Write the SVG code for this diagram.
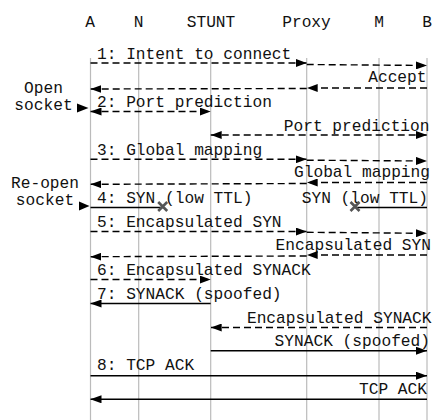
<svg xmlns="http://www.w3.org/2000/svg" width="433" height="420" viewBox="0 0 433 420">
<style>
text{font-family:"Liberation Mono","DejaVu Sans Mono",monospace;font-size:16.2px;fill:#111}
.e{text-anchor:end}
.m{text-anchor:middle}
.life{stroke:#bbb;stroke-width:1.2}
.a{stroke:#000;stroke-width:1.4;fill:none}
.d{stroke-dasharray:7,4}
.x{stroke:#555;stroke-width:2.6}
</style>
<defs>
<marker id="ah" viewBox="0 0 11 8" refX="11" refY="4" markerWidth="11" markerHeight="8" orient="auto-start-reverse" markerUnits="userSpaceOnUse">
<path d="M0,0 L11,4 L0,8 z" fill="#000"/>
</marker>
</defs>
<g id="lifelines">
<g id="A"><text class="m" x="90" y="26.5">A</text><line class="life" x1="90.5" y1="58" x2="90.5" y2="420"/></g>
<g id="N"><text class="m" x="138.5" y="26.5">N</text><line class="life" x1="138.7" y1="58" x2="138.7" y2="420"/></g>
<g id="STUNT"><text class="m" x="211" y="26.5">STUNT</text><line class="life" x1="210.7" y1="58" x2="210.7" y2="420"/></g>
<g id="Proxy"><text class="m" x="306.5" y="26.5">Proxy</text><line class="life" x1="306.7" y1="58" x2="306.7" y2="420"/></g>
<g id="M"><text class="m" x="379" y="26.5">M</text><line class="life" x1="379" y1="58" x2="379" y2="420"/></g>
<g id="B"><text class="m" x="427" y="26.5">B</text><line class="life" x1="427" y1="58" x2="427" y2="420"/></g>
</g>
<g id="notes">
<text class="m" x="43.5" y="92.5">Open</text>
<text class="m" x="43.5" y="110">socket</text>
<polygon points="77,103.5 88.5,108 77,112.5" fill="#000"/>
<text class="m" x="45" y="187.5">Re-open</text>
<text class="m" x="45" y="204.5">socket</text>
<polygon points="79,201.5 89.5,206 79,210.5" fill="#000"/>
</g>
<g id="connectors">
<text x="97" y="59">1: Intent to connect</text>
<line class="a d" x1="90.5" y1="63" x2="306.7" y2="63" marker-end="url(#ah)"/>
<line class="a d" x1="306.7" y1="64.5" x2="427" y2="65.5" marker-end="url(#ah)"/>

<text class="e" x="426.5" y="82">Accept</text>
<line class="a d" x1="427" y1="88" x2="306.7" y2="88" marker-end="url(#ah)"/>
<line class="a d" x1="306.7" y1="88.5" x2="90.5" y2="89" marker-end="url(#ah)"/>

<text x="97" y="107">2: Port prediction</text>
<line class="a d" x1="90.5" y1="111.5" x2="210.7" y2="111.5" marker-start="url(#ah)" marker-end="url(#ah)"/>

<text class="e" x="429.5" y="131">Port prediction</text>
<line class="a d" x1="210.7" y1="135" x2="427" y2="135" marker-start="url(#ah)" marker-end="url(#ah)"/>

<text x="97" y="155">3: Global mapping</text>
<line class="a d" x1="90.5" y1="159.3" x2="306.7" y2="159.3" marker-end="url(#ah)"/>
<line class="a d" x1="306.7" y1="160.2" x2="427" y2="161" marker-end="url(#ah)"/>

<text class="e" x="430" y="177">Global mapping</text>
<line class="a d" x1="427" y1="182.5" x2="306.7" y2="182.5" marker-end="url(#ah)"/>
<line class="a d" x1="306.7" y1="183.5" x2="90.5" y2="184.3" marker-end="url(#ah)"/>

<text x="97" y="202.5">4: SYN (low TTL)</text>
<line class="a" x1="90.5" y1="207.5" x2="162.7" y2="207.5"/>
<path class="x" d="M158.2,202 L167.2,211 M167.2,202 L158.2,211"/>
<text class="e" x="428" y="202.5">SYN (low TTL)</text>
<line class="a" x1="427" y1="207.5" x2="355" y2="207.5"/>
<path class="x" d="M350.5,202 L359.5,211 M359.5,202 L350.5,211"/>

<text x="97" y="226.5">5: Encapsulated SYN</text>
<line class="a d" x1="90.5" y1="231.5" x2="306.7" y2="231.5" marker-end="url(#ah)"/>
<line class="a d" x1="306.7" y1="232.3" x2="427" y2="233.3" marker-end="url(#ah)"/>

<text class="e" x="431" y="250">Encapsulated SYN</text>
<line class="a d" x1="427" y1="255" x2="306.7" y2="255" marker-end="url(#ah)"/>
<line class="a d" x1="306.7" y1="256" x2="90.5" y2="256.7" marker-end="url(#ah)"/>

<text x="97" y="275">6: Encapsulated SYNACK</text>
<line class="a d" x1="90.5" y1="279.5" x2="210.7" y2="279.5" marker-end="url(#ah)"/>

<text x="97" y="298.5">7: SYNACK (spoofed)</text>
<line class="a" x1="210.7" y1="303.5" x2="90.5" y2="303.5" marker-end="url(#ah)"/>

<text class="e" x="431.5" y="322.5">Encapsulated SYNACK</text>
<line class="a d" x1="427" y1="327.5" x2="210.7" y2="327.5" marker-end="url(#ah)"/>

<text class="e" x="430" y="346">SYNACK (spoofed)</text>
<line class="a" x1="210.7" y1="350.7" x2="427" y2="350.7" marker-end="url(#ah)"/>

<text x="97" y="370">8: TCP ACK</text>
<line class="a" x1="90.5" y1="375.7" x2="427" y2="375.7" marker-end="url(#ah)"/>

<text class="e" x="427" y="393.5">TCP ACK</text>
<line class="a" x1="427" y1="399.3" x2="90.5" y2="399.3" marker-end="url(#ah)"/>
</g>
</svg>
